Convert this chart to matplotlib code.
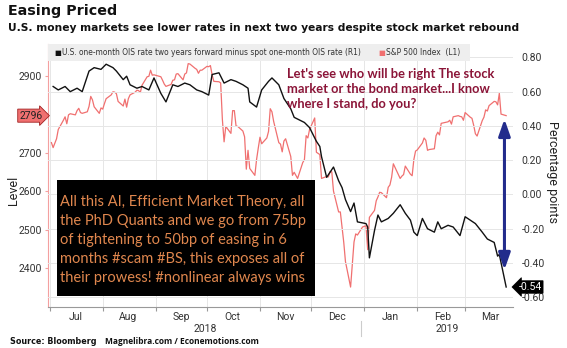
import matplotlib
matplotlib.use("Agg")
import matplotlib.pyplot as plt
import matplotlib.dates as mdates
import pandas as pd

# ---------------- data ----------------
sp_dates = [
    "2018-07-02", "2018-07-03", "2018-07-05", "2018-07-06", "2018-07-09", "2018-07-10", "2018-07-11",
    "2018-07-12", "2018-07-13", "2018-07-16", "2018-07-17", "2018-07-18", "2018-07-19", "2018-07-20",
    "2018-07-23", "2018-07-24", "2018-07-25", "2018-07-26", "2018-07-27", "2018-07-30", "2018-07-31",
    "2018-08-01", "2018-08-02", "2018-08-03", "2018-08-06", "2018-08-07", "2018-08-08", "2018-08-09",
    "2018-08-10", "2018-08-13", "2018-08-14", "2018-08-15", "2018-08-16", "2018-08-17", "2018-08-20",
    "2018-08-21", "2018-08-22", "2018-08-23", "2018-08-24", "2018-08-27", "2018-08-28", "2018-08-29",
    "2018-08-30", "2018-08-31", "2018-09-04", "2018-09-05", "2018-09-06", "2018-09-07", "2018-09-10",
    "2018-09-11", "2018-09-12", "2018-09-13", "2018-09-14", "2018-09-17", "2018-09-18", "2018-09-19",
    "2018-09-20", "2018-09-21", "2018-09-24", "2018-09-25", "2018-09-26", "2018-09-27", "2018-09-28",
    "2018-10-01", "2018-10-02", "2018-10-03", "2018-10-04", "2018-10-05", "2018-10-08", "2018-10-09",
    "2018-10-10", "2018-10-11", "2018-10-12", "2018-10-15", "2018-10-16", "2018-10-17", "2018-10-18",
    "2018-10-19", "2018-10-22", "2018-10-23", "2018-10-24", "2018-10-25", "2018-10-26", "2018-10-29",
    "2018-10-30", "2018-10-31", "2018-11-01", "2018-11-02", "2018-11-05", "2018-11-06", "2018-11-07",
    "2018-11-08", "2018-11-09", "2018-11-12", "2018-11-13", "2018-11-14", "2018-11-15", "2018-11-16",
    "2018-11-19", "2018-11-20", "2018-11-21", "2018-11-23", "2018-11-26", "2018-11-27", "2018-11-28",
    "2018-11-29", "2018-11-30", "2018-12-03", "2018-12-04", "2018-12-06", "2018-12-07", "2018-12-10",
    "2018-12-11", "2018-12-12", "2018-12-13", "2018-12-14", "2018-12-17", "2018-12-18", "2018-12-19",
    "2018-12-20", "2018-12-21", "2018-12-24", "2018-12-26", "2018-12-27", "2018-12-28", "2018-12-31",
    "2019-01-02", "2019-01-03", "2019-01-04", "2019-01-07", "2019-01-08", "2019-01-09", "2019-01-10",
    "2019-01-11", "2019-01-14", "2019-01-15", "2019-01-16", "2019-01-17", "2019-01-18", "2019-01-22",
    "2019-01-23", "2019-01-24", "2019-01-25", "2019-01-28", "2019-01-29", "2019-01-30", "2019-01-31",
    "2019-02-01", "2019-02-04", "2019-02-05", "2019-02-06", "2019-02-07", "2019-02-08", "2019-02-11",
    "2019-02-12", "2019-02-13", "2019-02-14", "2019-02-15", "2019-02-19", "2019-02-20", "2019-02-21",
    "2019-02-22", "2019-02-25", "2019-02-26", "2019-02-27", "2019-02-28", "2019-03-01", "2019-03-04",
    "2019-03-05", "2019-03-06", "2019-03-07", "2019-03-08", "2019-03-11", "2019-03-12", "2019-03-13",
    "2019-03-14", "2019-03-15", "2019-03-18", "2019-03-19", "2019-03-20", "2019-03-21", "2019-03-22",
    "2019-03-25",
]
sp_values = [
    2726, 2713, 2736, 2760, 2784, 2793, 2775,
    2798, 2801, 2798, 2809, 2815, 2804, 2802,
    2806, 2820, 2846, 2837, 2819, 2802, 2816,
    2813, 2827, 2840, 2850, 2858, 2857, 2853,
    2833, 2821, 2839, 2818, 2840, 2850, 2857,
    2862, 2861, 2856, 2875, 2897, 2898, 2914,
    2901, 2902, 2897, 2888, 2878, 2872, 2877,
    2888, 2889, 2904, 2905, 2889, 2904, 2907,
    2931, 2930, 2919, 2916, 2906, 2914, 2914,
    2924, 2923, 2926, 2902, 2885, 2884, 2881,
    2786, 2728, 2768, 2750, 2809, 2809, 2769,
    2768, 2756, 2741, 2657, 2706, 2659, 2641,
    2682, 2712, 2740, 2723, 2738, 2755, 2814,
    2806, 2781, 2726, 2722, 2702, 2730, 2736,
    2690, 2641, 2649, 2633, 2674, 2682, 2744,
    2738, 2760, 2790, 2701, 2695, 2633, 2638,
    2637, 2651, 2650, 2600, 2546, 2546, 2507,
    2467, 2417, 2351, 2468, 2489, 2486, 2507,
    2510, 2448, 2532, 2550, 2575, 2585, 2597,
    2596, 2583, 2610, 2616, 2636, 2671, 2633,
    2639, 2643, 2665, 2644, 2640, 2682, 2704,
    2707, 2725, 2738, 2732, 2706, 2708, 2710,
    2744, 2753, 2746, 2776, 2780, 2784, 2774,
    2793, 2796, 2794, 2793, 2784, 2804, 2792,
    2789, 2771, 2749, 2743, 2783, 2792, 2811,
    2808, 2822, 2833, 2832, 2824, 2854, 2800,
    2796,
]

ois_dates = [
    "2018-07-03", "2018-07-06", "2018-07-10", "2018-07-13", "2018-07-17", "2018-07-20", "2018-07-24",
    "2018-07-27", "2018-07-31", "2018-08-03", "2018-08-07", "2018-08-09", "2018-08-13", "2018-08-15",
    "2018-08-17", "2018-08-21", "2018-08-24", "2018-08-28", "2018-08-31", "2018-09-04", "2018-09-07",
    "2018-09-11", "2018-09-14", "2018-09-18", "2018-09-21", "2018-09-25", "2018-09-28", "2018-10-02",
    "2018-10-04", "2018-10-08", "2018-10-11", "2018-10-15", "2018-10-18", "2018-10-22", "2018-10-25",
    "2018-10-26", "2018-10-30", "2018-11-02", "2018-11-06", "2018-11-08", "2018-11-12", "2018-11-15",
    "2018-11-19", "2018-11-21", "2018-11-27", "2018-11-30", "2018-12-04", "2018-12-06", "2018-12-07",
    "2018-12-10", "2018-12-12", "2018-12-14", "2018-12-17", "2018-12-19", "2018-12-21", "2018-12-24",
    "2018-12-26", "2018-12-28", "2019-01-02", "2019-01-03", "2019-01-04", "2019-01-07", "2019-01-09",
    "2019-01-11", "2019-01-15", "2019-01-18", "2019-01-22", "2019-01-25", "2019-01-28", "2019-01-30",
    "2019-02-01", "2019-02-04", "2019-02-07", "2019-02-11", "2019-02-13", "2019-02-15", "2019-02-19",
    "2019-02-22", "2019-02-26", "2019-03-01", "2019-03-04", "2019-03-07", "2019-03-11", "2019-03-14",
    "2019-03-18", "2019-03-20", "2019-03-21", "2019-03-25",
]
ois_values = [
    0.63, 0.61, 0.63, 0.60, 0.62, 0.60, 0.72,
    0.74, 0.73, 0.76, 0.74, 0.72, 0.67, 0.69,
    0.64, 0.62, 0.63, 0.61, 0.68, 0.59, 0.54,
    0.64, 0.63, 0.65, 0.64, 0.61, 0.60, 0.58,
    0.70, 0.71, 0.65, 0.67, 0.66, 0.64, 0.62,
    0.54, 0.51, 0.61, 0.66, 0.68, 0.64, 0.56,
    0.50, 0.45, 0.42, 0.39, 0.31, 0.28, 0.22,
    0.10, 0.13, 0.16, 0.08, 0.04, -0.03, -0.10,
    -0.05, -0.16, -0.17, -0.19, -0.37, -0.21, -0.12,
    -0.16, -0.14, -0.11, -0.06, -0.11, -0.15, -0.22,
    -0.24, -0.14, -0.20, -0.22, -0.16, -0.20, -0.18,
    -0.19, -0.24, -0.13, -0.15, -0.17, -0.22, -0.26,
    -0.28, -0.36, -0.35, -0.54,
]

left_ticks = [2400, 2500, 2600, 2700, 2800, 2900]
left_ticklabels = ["2400", "2500", "2600", "2700", "", "2900"]
right_ticks = [-0.6, -0.4, -0.2, 0.0, 0.2, 0.4, 0.6, 0.8]
year_labels = ["2018", "2019"]

sp_last_label = "2796"
ois_last_label = "-0.54"
arrow_date = "2019-03-24"
arrow_top = 0.44
arrow_bottom = -0.44

legend_ois = "U.S. one-month OIS rate two years forward minus spot one-month OIS rate (R1)"
legend_sp = "S&P 500 Index  (L1)"

box_text = ("All this AI, Efficient Market Theory, all\n"
            "the PhD Quants and we go from 75bp\n"
            "of tightening to 50bp of easing in 6\n"
            "months #scam #BS, this exposes all of\n"
            "their prowess! #nonlinear always wins")
red_text = ("Let's see who will be right The stock\n"
            "market or the bond market...I know\n"
            "where I stand, do you?")

# ---------------- figure ----------------
W, H = 567, 348
fig = plt.figure(figsize=(W / 100, H / 100), dpi=100)
fig.patch.set_facecolor("white")

ax_l, ax_r, ax_t, ax_b = 48, 513, 44, 306.7
ax = fig.add_axes([ax_l / W, 1 - ax_b / H, (ax_r - ax_l) / W, (ax_b - ax_t) / H])
ax2 = ax.twinx()

sp_x = pd.to_datetime(sp_dates)
ois_x = pd.to_datetime(ois_dates)

RED = "#F07070"
ax.plot(sp_x, sp_values, color=RED, lw=0.9, zorder=3)
ax2.plot(ois_x, ois_values, color="#111111", lw=1.0, zorder=3)

ax.set_xlim(pd.Timestamp("2018-06-30"), pd.Timestamp("2019-03-29"))
ax.set_ylim(2300, 2982)
ax2.set_ylim(-0.655, 0.878)

# x axis
ax.xaxis.set_major_locator(mdates.MonthLocator())
ax.xaxis.set_major_formatter(plt.NullFormatter())
ax.xaxis.set_minor_locator(mdates.MonthLocator(bymonthday=16))
ax.xaxis.set_minor_formatter(mdates.DateFormatter("%b"))
ax.tick_params(axis="x", which="major", length=3, color="#999999", width=0.8)
ax.tick_params(axis="x", which="minor", length=0, pad=4, labelsize=7.5, labelcolor="#333333")
for lbl in ax.xaxis.get_minorticklabels():
    lbl.set_fontfamily("Roboto")

# left y axis
ax.set_yticks(left_ticks)
ax.set_yticklabels(left_ticklabels)
ax.tick_params(axis="y", which="major", length=2.5, color="#F4A0A0", labelsize=7.5,
               labelcolor="#333333", pad=2)
for lbl in ax.get_yticklabels():
    lbl.set_fontfamily("Roboto")

# right y axis
ax2.set_yticks(right_ticks)
ax2.set_yticklabels([f"{v:.2f}" for v in right_ticks])
ax2.tick_params(axis="y", length=0, labelsize=7.5, labelcolor="#333333", pad=6)
for lbl in ax2.get_yticklabels():
    lbl.set_fontfamily("Roboto")

# grid
ax.grid(False)
ax2.grid(True, axis="y", color="#E6E6E6", lw=0.7, zorder=0)
ax.xaxis.grid(True, which="major", color="#E6E6E6", lw=0.7)
ax.set_axisbelow(True)
ax2.set_axisbelow(True)

for sp in ["top", "right"]:
    ax.spines[sp].set_visible(False)
    ax2.spines[sp].set_visible(False)
ax2.spines["left"].set_visible(False)
ax2.spines["bottom"].set_visible(False)
ax.spines["left"].set_color("#F4A0A0")
ax.spines["left"].set_linewidth(0.8)
ax.spines["bottom"].set_color("#999999")
ax.spines["bottom"].set_linewidth(0.8)

# axis labels
fig.text(14 / W, 1 - 190 / H, "Level", rotation=90, ha="center", va="center",
         fontsize=9, color="#222222", family="Roboto")
fig.text(553 / W, 1 - 172 / H, "Percentage points", rotation=270, ha="center", va="center",
         fontsize=9, color="#222222", family="Roboto")

# year labels and separator
fig.text(205 / W, 1 - 329 / H, year_labels[0], ha="center", va="center", fontsize=7.5,
         color="#333333", family="Roboto")
fig.text(447 / W, 1 - 329 / H, year_labels[1], ha="center", va="center", fontsize=7.5,
         color="#333333", family="Roboto")
fig.add_artist(plt.Line2D([361 / W, 361 / W], [1 - 321 / H, 1 - 336 / H], color="#CCCCCC", lw=0.8))

# legend band
band = plt.Rectangle((48 / W, 1 - 61 / H), (470 - 48) / W, 17 / H, transform=fig.transFigure,
                     facecolor="#EEEEEE", edgecolor="none", zorder=5)
fig.add_artist(band)
fig.text(54.5 / W, 1 - 52.5 / H, "\u25A0", ha="left", va="center", fontsize=5.2, color="#111111", zorder=6)
fig.text(62 / W, 1 - 52.5 / H, legend_ois, ha="left", va="center", fontsize=5.45,
         color="#333333", zorder=6)
fig.text(378 / W, 1 - 52.5 / H, "\u25A0", ha="left", va="center", fontsize=5.2, color=RED, zorder=6)
fig.text(386 / W, 1 - 52.5 / H, legend_sp, ha="left", va="center", fontsize=5.45,
         color="#333333", zorder=6)

# last value markers
ax.text(-0.012, float(sp_values[-1]), sp_last_label, transform=ax.get_yaxis_transform(),
        ha="right", va="center", fontsize=7.5, color="#222222", family="Roboto",
        bbox=dict(boxstyle="rarrow,pad=0.15", facecolor="#F07070", edgecolor="#A02020", lw=0.6),
        zorder=10, clip_on=False)
ax2.text(1.012, ois_values[-1], ois_last_label, transform=ax2.get_yaxis_transform(),
         ha="left", va="center", fontsize=7.5, color="white", family="Roboto",
         bbox=dict(boxstyle="larrow,pad=0.12", facecolor="black", edgecolor="black", lw=0.5),
         zorder=10, clip_on=False)

# black annotation box
fig.add_artist(plt.Rectangle((57 / W, 1 - 296 / H), (315 - 57) / W, (296 - 180) / H,
                             transform=fig.transFigure, facecolor="black", edgecolor="none", zorder=8))
fig.text(60 / W, 1 - 240 / H, box_text, ha="left", va="center", fontsize=10.5,
         color="#E0874E", family="Lato", linespacing=1.45, zorder=9)

# red annotation
fig.text(287 / W, 1 - 89 / H, red_text, ha="left", va="center", fontsize=9.3,
         color="#8B1538", family="Lato", weight="bold", linespacing=1.35, zorder=9)

# blue double arrow
ax2.annotate("", xy=(pd.Timestamp(arrow_date), arrow_bottom),
             xytext=(pd.Timestamp(arrow_date), arrow_top),
             arrowprops=dict(arrowstyle="<|-|>,head_length=1.0,head_width=0.35",
                             color="#232C8C", lw=2.2, shrinkA=0, shrinkB=0),
             zorder=9)

# titles
fig.text(8 / W, 1 - 4 / H, "Easing Priced", ha="left", va="top", fontsize=10.3,
         weight="bold", color="#111111")
fig.text(8 / W, 1 - 23 / H, "U.S. money markets see lower rates in next two years despite stock market rebound",
         ha="left", va="top", fontsize=7.7, weight="bold", color="#111111")

# source
fig.text(10 / W, 1 - 342 / H, "Source: Bloomberg", ha="left", va="center", fontsize=5.8,
         weight="bold", color="#111111")
fig.text(105 / W, 1 - 341 / H, "Magnelibra.com / Econemotions.com", ha="left", va="center",
         fontsize=6.0, weight="bold", color="#111111", family="Open Sans")

fig.savefig("out.png", dpi=100)
